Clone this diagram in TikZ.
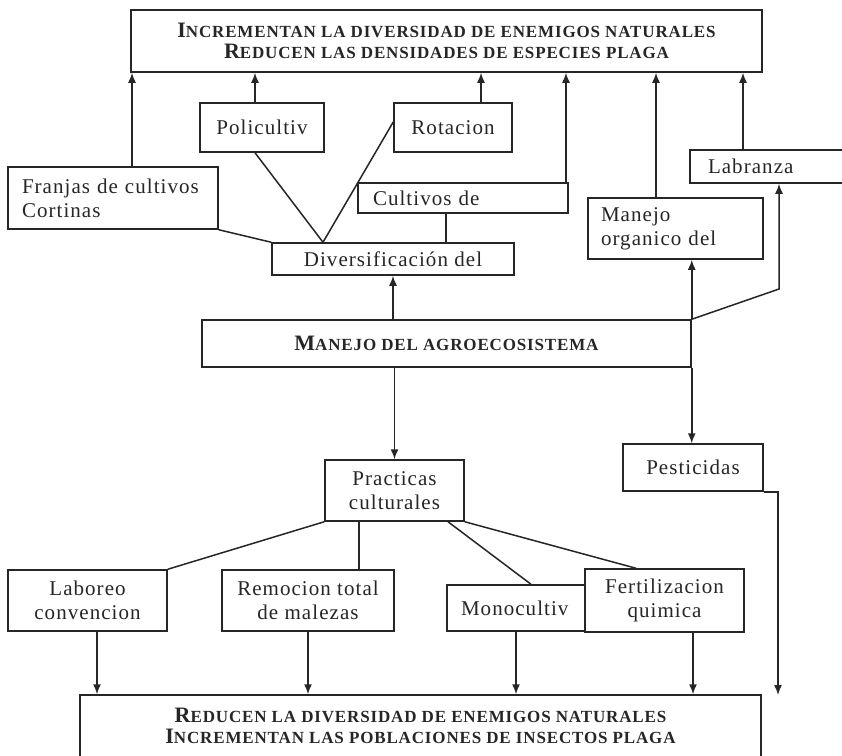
\documentclass[tikz,border=0pt]{standalone}
\usepackage{fontspec}
\setmainfont{Liberation Serif}[LetterSpace=5]
\usetikzlibrary{arrows.meta}
\newcommand\initcap[1]{{\fontsize{22}{21}\selectfont #1}}

\begin{document}
\begin{tikzpicture}[x=1pt, y=-1pt, line width=1.5pt, color=black!85,
	box/.style={draw, fill=white, inner sep=0pt, align=center, font=\fontsize{21}{24}\selectfont},
	lbox/.style={box, align=left},
	hbox/.style={box, font=\fontsize{17}{21}\selectfont\bfseries},
	arr/.style={-{Latex[length=10pt,width=8pt]}}]
	\clip (0,0) rectangle (842,755);
	\fill[white] (0,0) rectangle (842,755);

	\node[hbox, minimum width=631pt, minimum height=62pt] (top) at (446.5,41) {\initcap{I}NCREMENTAN LA DIVERSIDAD DE ENEMIGOS NATURALES\\\initcap{R}EDUCEN LAS DENSIDADES DE ESPECIES PLAGA};
	\node[lbox, minimum height=62pt, text width=182pt, inner xsep=14pt] (fra) at (113,198) {Franjas de cultivos\\Cortinas};
	\node[box, minimum width=124pt, minimum height=49pt] (pol) at (262,127.5) {Policultiv};
	\node[box, minimum width=118pt, minimum height=49pt] (rot) at (453,127.5) {Rotacion};
	\node[lbox, minimum height=30pt, text width=180pt, inner xsep=15pt] (cul) at (463,198) {Cultivos de};
	\node[lbox, minimum height=33pt, text width=126pt, inner xsep=18pt] (lab) at (771,166.5) {Labranza};
	\node[lbox, minimum height=61pt, text width=149pt, inner xsep=13pt] (org) at (675.5,228.5) {Manejo\\organico del};
	\node[box, minimum width=242pt, minimum height=32pt] (div) at (393,259) {Diversificación del};
	\node[hbox, minimum width=489pt, minimum height=47pt] (man) at (446.5,343.5) {\initcap{M}ANEJO DEL AGROECOSISTEMA};
	\node[box, minimum width=139pt, minimum height=61pt] (pra) at (394.5,490.5) {Practicas\\culturales};
	\node[box, minimum width=140pt, minimum height=47pt] (pes) at (693,467.5) {Pesticidas};
	\node[box, minimum width=159pt, minimum height=61pt] (lbo) at (87.5,600.5) {Laboreo\\convencion};
	\node[box, minimum width=172pt, minimum height=61pt] (rem) at (308,600.5) {Remocion total\\de malezas};
	\node[lbox, minimum height=46pt, text width=125pt, inner xsep=14pt] (mon) at (523.5,608) {Monocultiv};
	\node[box, minimum width=159pt, minimum height=63pt] (fer) at (664.5,600.5) {Fertilizacion\\quimica};
	\node[hbox, minimum width=681pt, minimum height=62pt] (bot) at (420.5,726) {\initcap{R}EDUCEN LA DIVERSIDAD DE ENEMIGOS NATURALES\\\initcap{I}NCREMENTAN LAS POBLACIONES DE INSECTOS PLAGA};

	\coordinate (v) at (div.north -| 323,0);
	\coordinate (k) at (779,289);
	\coordinate (pend) at (778,695);

	\draw[arr] (fra.north -| 132,0) -- (top.south -| 132,0);
	\draw[arr] (pol.north -| 255,0) -- (top.south -| 255,0);
	\draw[arr] (rot.north -| 481,0) -- (top.south -| 481,0);
	\draw[arr] (cul.north -| 566,0) -- (top.south -| 566,0);
	\draw[arr] (org.north -| 656,0) -- (top.south -| 656,0);
	\draw[arr] (lab.north -| 743,0) -- (top.south -| 743,0);
	\draw (fra.south east) -- (div.north west);
	\draw (pol.south -| 255,0) -- (v) -- (rot.west |- 0,122);
	\draw (cul.south -| 446,0) -- (div.north -| 446,0);
	\draw[arr] (man.north -| div.south) -- (div.south);
	\draw[arr] (man.south -| pra.north) -- (pra.north);
	\draw[arr] (man.north east) -- (man.north east |- org.south);
	\draw[arr] (man.north east) -- (k) -- (k |- lab.south);
	\draw[arr] (man.south east) -- (man.south east |- pes.north);
	\draw[arr] (pes.south east) -- (pes.south east -| pend) -- (pend);
	\draw (pra.south west) -- (lbo.north east);
	\draw (pra.south -| 359,0) -- (rem.north -| 359,0);
	\draw (pra.south -| 448,0) -- (mon.north -| 531,0);
	\draw (pra.south east) -- (fer.north -| 636,0);
	\draw[arr] (lbo.south -| 97,0) -- (bot.north -| 97,0);
	\draw[arr] (rem.south) -- (rem.south |- bot.north);
	\draw[arr] (mon.south -| 516,0) -- (bot.north -| 516,0);
	\draw[arr] (fer.south -| 693,0) -- (bot.north -| 693,0);
\end{tikzpicture}
\end{document}
